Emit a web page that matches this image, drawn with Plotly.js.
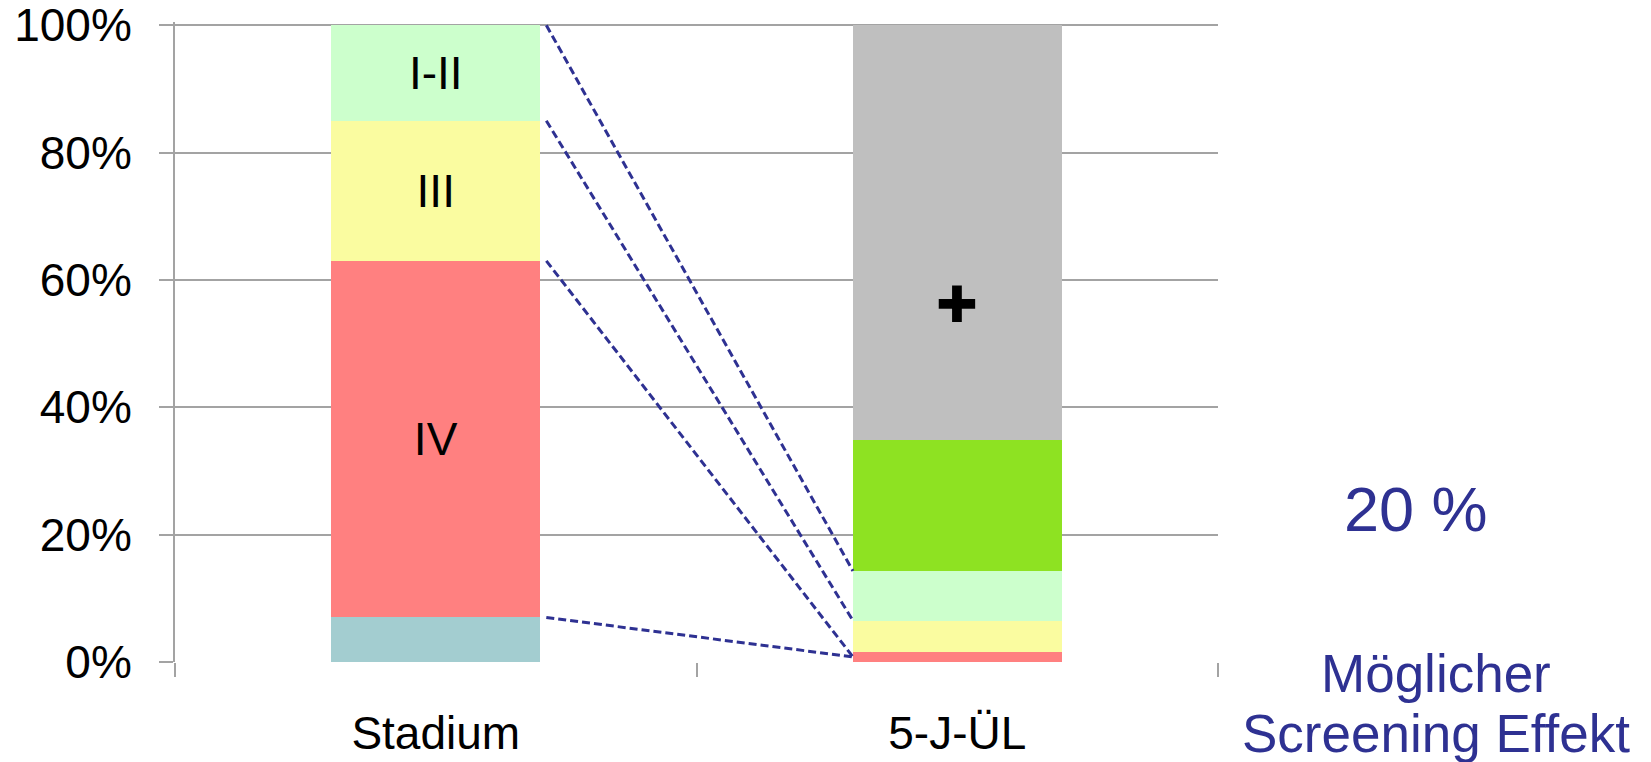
<!DOCTYPE html>
<html>
<head>
<meta charset="utf-8">
<script src="https://cdn.plot.ly/plotly-3.0.1.min.js"></script>
<style>html,body{margin:0;padding:0;background:#fff;}#chart{width:1651px;height:762px;}</style>
</head>
<body>
<div id="chart"></div>
<script>
// ---- data ----
var categories = ['Stadium', '5-J-ÜL'];
var tealVals   = [7, 0];
var redVals    = [56, 1.5];
var yellowVals = [22, 5.0];
var lgreenVals = [15, 7.8];
var greenVals  = [0, 20.5];
var grayVals   = [0, 65.2];
var redText    = ['IV', ''];
var yellowText = ['III', ''];
var lgreenText = ['I-II', ''];
var connectorFrom = [100, 85, 63, 7];
var connectorTo   = [14.3, 6.5, 0.8, 0.8];
var yTickVals = [0, 20, 40, 60, 80, 100];
var yTickText = ['0%', '20%', '40%', '60%', '80%', '100%'];
var plusPosition = 56;
var effectText = '20 %';
var effectLabel1 = 'Möglicher';
var effectLabel2 = 'Screening Effekt';

// ---- styles ----
var FONT = 'Liberation Sans, Arial, Helvetica, sans-serif';
var BLUE = '#2E3192';
var GRID = '#A3A3A3';
var bargap = 0.6;
var half = (1 - bargap) / 2;

function seg(vals, color, text) {
  return {
    type: 'bar', x: categories, y: vals,
    marker: {color: color, line: {width: 0}},
    text: text || null,
    textposition: text ? 'inside' : 'none',
    insidetextanchor: 'middle',
    textangle: 0,
    textfont: {family: FONT, size: 46, color: '#000'},
    hoverinfo: 'skip'
  };
}

var data = [
  seg(tealVals, '#A3CDD0'),
  seg(redVals, '#FF8080', redText),
  seg(yellowVals, '#FAFCA0', yellowText),
  seg(lgreenVals, '#CCFFCC', lgreenText),
  seg(greenVals, '#8EE222'),
  seg(grayVals, '#BFBFBF')
];

var shapes = connectorFrom.map(function (f, i) {
  return {
    type: 'line', xref: 'x', yref: 'y',
    x0: 0 + half + 0.012, y0: f,
    x1: 1 - half, y1: connectorTo[i],
    line: {color: BLUE, width: 3, dash: '8px,4px'}
  };
});

var layout = {
  width: 1651, height: 762,
  margin: {l: 175, r: 433, t: 22, b: 100},
  paper_bgcolor: '#fff', plot_bgcolor: '#fff',
  barmode: 'stack', bargap: bargap,
  showlegend: false,
  font: {family: FONT, color: '#000'},
  xaxis: {
    type: 'category', tickson: 'boundaries',
    ticks: 'outside', ticklen: 14, tickwidth: 2, tickcolor: GRID,
    showgrid: false, showline: false, zeroline: false,
    tickfont: {family: FONT, size: 46, color: '#000'},
    ticklabelstandoff: 40
  },
  yaxis: {
    range: [0, 100.5], tickvals: yTickVals, ticktext: yTickText,
    ticks: 'outside', ticklen: 14, tickwidth: 2, tickcolor: GRID,
    showgrid: true, gridcolor: GRID, gridwidth: 2,
    showline: true, linecolor: GRID, linewidth: 2,
    zeroline: false,
    tickfont: {family: FONT, size: 46, color: '#000'},
    ticklabelstandoff: 18,
    ticklabeloverflow: 'allow'
  },
  shapes: shapes,
  annotations: [
    {x: 1, y: plusPosition, xref: 'x', yref: 'y', text: '✚', showarrow: false,
     font: {family: 'DejaVu Sans', size: 50, color: '#000'}},
    {x: (1416 - 175) / 1043, y: 0.2386, xref: 'paper', yref: 'paper', text: effectText,
     showarrow: false, xanchor: 'center', yanchor: 'middle',
     font: {family: FONT, size: 63, color: BLUE}},
    {x: (1436 - 175) / 1043, y: -0.018, xref: 'paper', yref: 'paper', text: effectLabel1,
     showarrow: false, xanchor: 'center', yanchor: 'middle',
     font: {family: FONT, size: 53, color: BLUE}},
    {x: (1436 - 175) / 1043, y: -0.112, xref: 'paper', yref: 'paper', text: effectLabel2,
     showarrow: false, xanchor: 'center', yanchor: 'middle',
     font: {family: FONT, size: 53, color: BLUE}}
  ]
};

Plotly.newPlot('chart', data, layout, {displayModeBar: false, staticPlot: true});
</script>
</body>
</html>
